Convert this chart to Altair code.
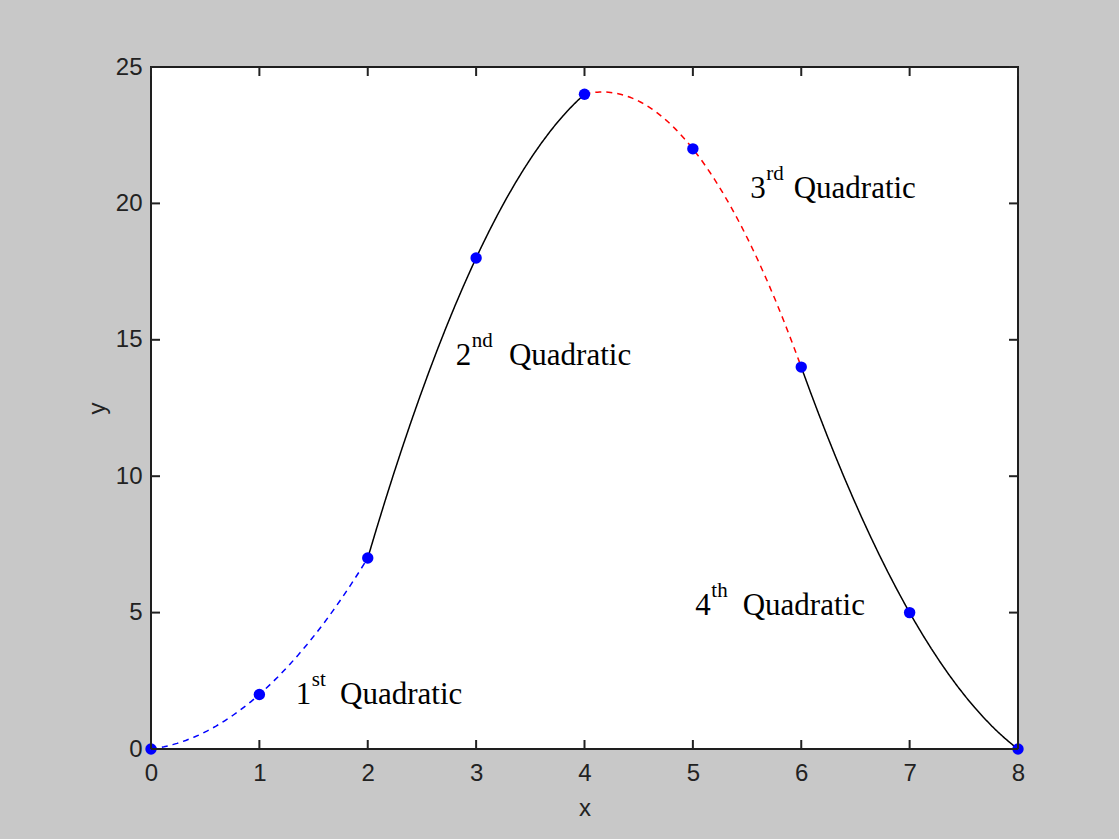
import altair as alt
import pandas as pd

# Knots of the piecewise quadratic
x_pts = [0, 1, 2, 3, 4, 5, 6, 7, 8]
y_pts = [0, 2, 7, 18, 24, 22, 14, 5, 0]

# Each quadratic runs through three consecutive knots
segments = ["1st", "2nd", "3rd", "4th"]
segment_start = [0, 2, 4, 6]
seg_colors = ["#0000ff", "#000000", "#ff0000", "#000000"]
seg_dash = [[6, 5], [1, 0], [6, 5], [1, 0]]

x_ticks = [0, 1, 2, 3, 4, 5, 6, 7, 8]
y_ticks = [0, 5, 10, 15, 20, 25]

# Annotation labels (digit + superscript suffix + word), in data coordinates
ann_num = ["1", "2", "3", "4"]
ann_sup = ["st", "nd", "rd", "th"]
ann_x = [1.336, 2.811, 5.530, 5.023]
ann_y = [1.65, 14.08, 20.20, 4.91]
ann_word_x = [1.745, 3.303, 5.930, 5.460]

W, H = 867, 682
INK = "#222222"

points_df = pd.DataFrame({"x": x_pts, "y": y_pts})

rows = []
for seg, s in zip(segments, segment_start):
    for i in range(s, s + 3):
        rows.append({"seg": seg, "x": x_pts[i], "y": y_pts[i]})
curve_df = pd.DataFrame(rows)

ann_df = pd.DataFrame({
    "num": ann_num, "sup": ann_sup, "x": ann_x, "y": ann_y,
    "wx": ann_word_x, "word": ["Quadratic"] * 4,
})

xscale = alt.Scale(domain=[0, 8], nice=False, zero=False)
yscale = alt.Scale(domain=[0, 25], nice=False, zero=False)

xaxis = alt.Axis(
    values=x_ticks, title="x", grid=False, domain=False, ticks=False, tickSize=0,
    labelFont="Liberation Sans", labelFontSize=24, labelColor=INK,
    labelPadding=12, labelFlush=False,
    titleFont="Liberation Sans", titleFontSize=24, titleFontWeight="normal",
    titleColor=INK, titleY=59, titleBaseline="middle",
)
yaxis = alt.Axis(
    values=y_ticks, title="y", grid=False, domain=False, ticks=False, tickSize=0,
    labelFont="Liberation Sans", labelFontSize=24, labelColor=INK,
    labelPadding=9, labelFlush=False,
    titleFont="Liberation Sans", titleFontSize=24, titleFontWeight="normal",
    titleColor=INK, titleX=-54, titleY=H / 2, titleAngle=270,
    titleBaseline="middle", titleAlign="center",
)


def X(field):
    return alt.X(f"{field}:Q", scale=xscale, axis=xaxis)


def Y(field):
    return alt.Y(f"{field}:Q", scale=yscale, axis=yaxis)


curves = (
    alt.Chart(curve_df)
    .transform_regression("x", "y", method="poly", order=2, groupby=["seg"])
    .mark_line(strokeWidth=1.5)
    .encode(
        x=X("x"),
        y=Y("y"),
        color=alt.Color("seg:N", scale=alt.Scale(domain=segments, range=seg_colors), legend=None),
        strokeDash=alt.StrokeDash("seg:N", scale=alt.Scale(domain=segments, range=seg_dash), legend=None),
        detail="seg:N",
    )
)

points = (
    alt.Chart(points_df)
    .mark_point(filled=True, size=130, color="#0000ff", opacity=1)
    .encode(x=X("x"), y=Y("y"))
)

# Inward-pointing ticks on all four sides of the box
xt_df = pd.DataFrame({"x": x_ticks})
yt_df = pd.DataFrame({"y": y_ticks})
tick_style = dict(color=INK, strokeWidth=2)
ticks_bottom = alt.Chart(xt_df).mark_rule(**tick_style).encode(
    x=X("x"), y=alt.value(H), y2=alt.value(H - 9))
ticks_top = alt.Chart(xt_df).mark_rule(**tick_style).encode(
    x=X("x"), y=alt.value(0), y2=alt.value(9))
ticks_left = alt.Chart(yt_df).mark_rule(**tick_style).encode(
    y=Y("y"), x=alt.value(0), x2=alt.value(9))
ticks_right = alt.Chart(yt_df).mark_rule(**tick_style).encode(
    y=Y("y"), x=alt.value(W), x2=alt.value(W - 9))

serif = dict(font="Liberation Serif", color="#000000", align="left", baseline="alphabetic")
ann_num_t = alt.Chart(ann_df).mark_text(fontSize=31, **serif).encode(
    x=X("x"), y=Y("y"), text="num:N")
ann_sup_t = alt.Chart(ann_df).mark_text(fontSize=21, dx=16, dy=-18, **serif).encode(
    x=X("x"), y=Y("y"), text="sup:N")
ann_word_t = alt.Chart(ann_df).mark_text(fontSize=31, **serif).encode(
    x=X("wx"), y=Y("y"), text="word:N")

chart = (
    alt.layer(
        curves, points,
        ticks_bottom, ticks_top, ticks_left, ticks_right,
        ann_num_t, ann_sup_t, ann_word_t,
    )
    .properties(
        width=W, height=H,
        autosize=alt.AutoSizeParams(type="none"),
        padding={"left": 151, "top": 67, "right": 101, "bottom": 90},
        background="#c8c8c8",
    )
    .configure_view(fill="white", stroke="#1e1e1e", strokeWidth=2)
)

chart.save("out.html", embed_options={"renderer": "svg", "actions": False})
